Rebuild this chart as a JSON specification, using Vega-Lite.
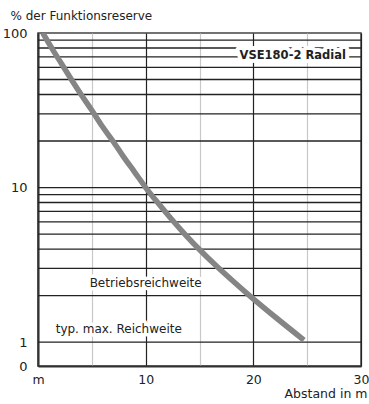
{
  "$schema": "https://vega.github.io/schema/vega-lite/v6.json",
  "width": 323,
  "height": 333,
  "autosize": {"type": "none"},
  "padding": {"left": 38, "top": 33, "right": 8, "bottom": 38},
  "background": "white",
  "config": {
    "font": "DejaVu Sans",
    "view": {"stroke": "#444", "strokeWidth": 1.5}
  },
  "datasets": {
    "curve": [
      {"distance": 0.45, "reserve": 100},
      {"distance": 1.32, "reserve": 79},
      {"distance": 2.2, "reserve": 63},
      {"distance": 3.1, "reserve": 50},
      {"distance": 4.0, "reserve": 40},
      {"distance": 5.0, "reserve": 31.6},
      {"distance": 5.95, "reserve": 25},
      {"distance": 6.95, "reserve": 20},
      {"distance": 7.95, "reserve": 15.8},
      {"distance": 8.97, "reserve": 12.6},
      {"distance": 10.0, "reserve": 10},
      {"distance": 11.17, "reserve": 7.9},
      {"distance": 12.35, "reserve": 6.3},
      {"distance": 13.63, "reserve": 5.0},
      {"distance": 14.95, "reserve": 4.0},
      {"distance": 16.45, "reserve": 3.16},
      {"distance": 18.05, "reserve": 2.5},
      {"distance": 19.64, "reserve": 2.0},
      {"distance": 22.26, "reserve": 1.41},
      {"distance": 24.7, "reserve": 1.03}
    ],
    "gridlines": [
      {"reserve": 1}, {"reserve": 2}, {"reserve": 3}, {"reserve": 4}, {"reserve": 5},
      {"reserve": 6}, {"reserve": 7}, {"reserve": 8}, {"reserve": 9}, {"reserve": 10},
      {"reserve": 20}, {"reserve": 30}, {"reserve": 40}, {"reserve": 50}, {"reserve": 60},
      {"reserve": 70}, {"reserve": 80}, {"reserve": 90}
    ],
    "labels": [
      {"distance": 10.0, "reserve": 2.41, "text": "Betriebsreichweite"},
      {"distance": 7.5, "reserve": 1.21, "text": "typ. max. Reichweite"}
    ],
    "model": [
      {"distance": 23.66, "reserve": 70.5, "text": "VSE180-2 Radial"}
    ]
  },
  "encoding": {
    "x": {
      "field": "distance",
      "type": "quantitative",
      "scale": {"domain": [0, 30], "nice": false, "zero": false},
      "axis": {
        "values": [0, 5, 10, 15, 20, 25, 30],
        "labelExpr": "datum.value == 0 ? 'm' : (datum.value % 10 == 0 ? toString(datum.value) : '')",
        "labelFlush": false,
        "labelOverlap": false,
        "labelFont": "DejaVu Sans",
        "labelFontSize": 12.5,
        "labelColor": "#222",
        "labelPadding": 7,
        "ticks": false,
        "tickSize": 0,
        "domainColor": "#333",
        "domainWidth": 2,
        "grid": true,
        "gridColor": {"condition": {"test": "datum.value % 10 == 0", "value": "#222"}, "value": "#c8c8c8"},
        "gridWidth": 1.2,
        "gridOpacity": 1,
        "title": "Abstand in m",
        "titleFont": "DejaVu Sans",
        "titleFontSize": 12.5,
        "titleFontWeight": "normal",
        "titleColor": "#222",
        "titleAlign": "right",
        "titleAnchor": "end",
        "titleBaseline": "alphabetic",
        "titleX": 329,
        "titleY": 31
      }
    },
    "y": {
      "field": "reserve",
      "type": "quantitative",
      "scale": {"type": "log", "domain": [0.7, 100], "nice": false, "zero": false},
      "axis": {
        "values": [0.7, 1, 10, 100],
        "labelExpr": "datum.value < 0.8 ? '0' : toString(datum.value)",
        "labelOverlap": false,
        "labelFlush": false,
        "labelFont": "DejaVu Sans",
        "labelFontSize": 13,
        "labelColor": "#222",
        "labelPadding": 11,
        "ticks": false,
        "tickSize": 0,
        "domainColor": "#333",
        "domainWidth": 2,
        "grid": false,
        "title": "% der Funktionsreserve",
        "titleFont": "DejaVu Sans",
        "titleFontSize": 12,
        "titleFontWeight": "normal",
        "titleColor": "#222",
        "titleAngle": 0,
        "titleAlign": "left",
        "titleBaseline": "alphabetic",
        "titleX": -28,
        "titleY": -14
      }
    }
  },
  "layer": [
    {
      "data": {"name": "gridlines"},
      "mark": {"type": "rule", "color": "#222", "strokeWidth": 1.3},
      "encoding": {"x": null}
    },
    {
      "data": {"name": "curve"},
      "mark": {"type": "line", "interpolate": "monotone", "color": "#858585", "strokeWidth": 5.5, "strokeCap": "butt", "clip": true}
    },
    {
      "data": {"name": "labels"},
      "mark": {"type": "text", "align": "center", "baseline": "middle", "fontSize": 12, "font": "DejaVu Sans", "stroke": "white", "strokeWidth": 7, "strokeJoin": "round", "fill": "white"},
      "encoding": {"text": {"field": "text"}}
    },
    {
      "data": {"name": "labels"},
      "mark": {"type": "text", "align": "center", "baseline": "middle", "fontSize": 12, "font": "DejaVu Sans", "color": "#222"},
      "encoding": {"text": {"field": "text"}}
    },
    {
      "data": {"name": "model"},
      "mark": {"type": "text", "align": "center", "baseline": "middle", "fontSize": 11.5, "fontWeight": "bold", "font": "DejaVu Sans", "stroke": "white", "strokeWidth": 8, "strokeJoin": "round", "fill": "white"},
      "encoding": {"text": {"field": "text"}}
    },
    {
      "data": {"name": "model"},
      "mark": {"type": "text", "align": "center", "baseline": "middle", "fontSize": 11.5, "fontWeight": "bold", "font": "DejaVu Sans", "color": "#222"},
      "encoding": {"text": {"field": "text"}}
    }
  ]
}
